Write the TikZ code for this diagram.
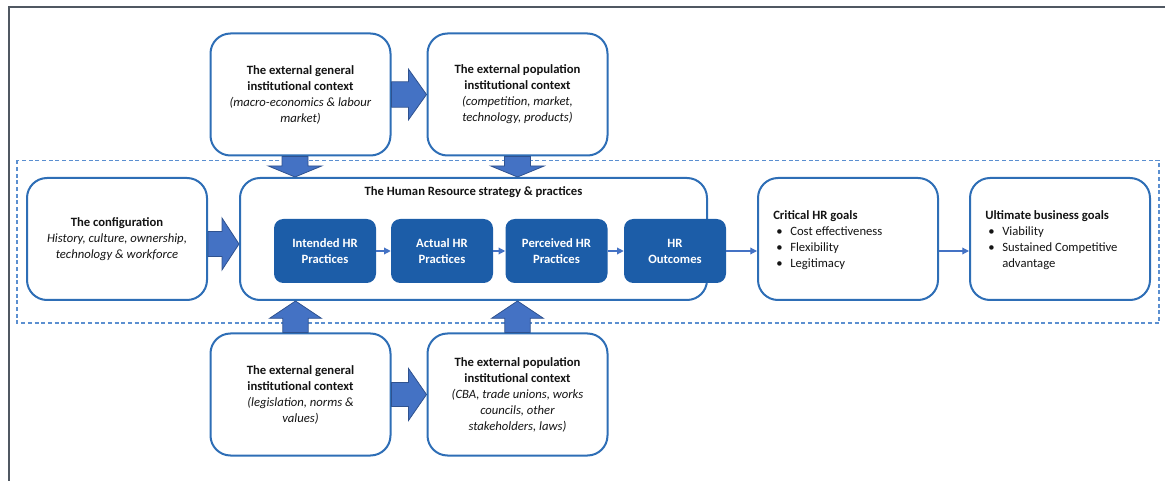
\documentclass[tikz,border=0pt]{standalone}
\usepackage{fontspec}
\setmainfont{Carlito}
\usetikzlibrary{arrows.meta,calc}

\definecolor{boxblue}{RGB}{46,110,182}
\definecolor{darkfill}{RGB}{28,93,168}
\definecolor{arrowfill}{RGB}{68,114,196}
\definecolor{arrowedge}{RGB}{47,82,143}
\definecolor{framegray}{RGB}{80,88,98}
\definecolor{dashblue}{RGB}{91,143,208}
\definecolor{textblack}{RGB}{20,20,20}

\tikzset{
  basefont/.style={font=\fontsize{9.5}{12}\selectfont, text=textblack},
  ctxbox/.style={basefont, draw=boxblue, line width=1.5pt, rounded corners=15pt,
    minimum width=135pt, minimum height=91.5pt, align=center, fill=white, inner sep=0pt},
  hrbox/.style={draw=boxblue, line width=1.5pt, rounded corners=15pt,
    minimum width=350.25pt, minimum height=91.5pt, fill=white, inner sep=0pt},
  practice/.style={font=\fontsize{9.5}{12}\selectfont\bfseries, text=white, fill=darkfill,
    rounded corners=7pt, minimum width=76.5pt, minimum height=48pt, align=center, inner sep=0pt},
  listtext/.style={basefont, align=left, inner sep=0pt, anchor=west},
  blockarrow/.style={fill=arrowfill, draw=arrowedge, line width=0.6pt, line join=miter},
  thinarrow/.style={draw=arrowfill, line width=0.9pt, -{Triangle[length=5pt,width=5pt]}},
  groupframe/.style={draw=dashblue, line width=0.8pt, dash pattern=on 3pt off 2pt},
}

% wide arrow pointing right: start, end, half shaft, half head, head length
\newcommand\rightfat[5]{%
  \path[blockarrow] let \p1=(#1), \p2=(#2), \p3=($(#2)!#5!(#1)$) in
    (\x1,\y2+#3) -- (\x3,\y2+#3) -- (\x3,\y2+#4) -- (\x2,\y2) --
    (\x3,\y2-#4) -- (\x3,\y2-#3) -- (\x1,\y2-#3) -- cycle;}
% wide arrow pointing up or down: start, end, half shaft, half head, head length
\newcommand\vertfat[5]{%
  \path[blockarrow] let \p1=(#1), \p2=(#2), \p3=($(#2)!#5!(#1)$) in
    (\x2-#3,\y1) -- (\x2-#3,\y3) -- (\x2-#4,\y3) -- (\x2,\y2) --
    (\x2+#4,\y3) -- (\x2+#3,\y3) -- (\x2+#3,\y1) -- cycle;}
\newcommand\bul{\hspace{2.25pt}\makebox[10.5pt][l]{\textbullet}}

\begin{document}
\begin{tikzpicture}[x=0.75pt, y=-0.75pt]
\useasboundingbox (0,0) rectangle (1165,481);

% outer page frame
\begin{scope}
  \clip (0,0) rectangle (1165,481);
  \draw[framegray, line width=1.2pt] (9,7) rectangle (1190,500);
\end{scope}

% dashed grouping frame around the middle row
\draw[groupframe] (17,160.5) rectangle (1159,323);

% context boxes
\node[ctxbox] (tgl) at (300.5,94.5)
  {\textbf{The external general}\\\textbf{institutional context}\\\textit{(macro-economics \& labour}\\\textit{market)}};
\node[ctxbox] (tgp) at (517.5,94.5)
  {\textbf{The external population}\\\textbf{institutional context}\\\textit{(competition, market,}\\\textit{technology, products)}};
\node[ctxbox] (cfg) at (117,239)
  {\textbf{The configuration}\\\textit{History, culture, ownership,}\\\textit{technology \& workforce}};
\node[ctxbox] (bgl) at (300.5,394.5)
  {\textbf{The external general}\\\textbf{institutional context}\\\textit{(legislation, norms \&}\\\textit{values)}};
\node[ctxbox] (bgp) at (517.5,394.5)
  {\textbf{The external population}\\\textbf{institutional context}\\\textit{(CBA, trade unions, works}\\\textit{councils, other}\\\textit{stakeholders, laws)}};

% HR strategy container
\node[hrbox] (hr) at (473.5,239) {};
\node[basefont, font=\fontsize{9.5}{12}\selectfont\bfseries, inner sep=0pt] (hrtitle) at (473.5,192)
  {The Human Resource strategy \& practices};

% goal boxes
\node[ctxbox] (crit) at (848,239) {};
\node[ctxbox] (ult) at (1060,239) {};
\node[listtext] (critlist) at ($(crit.west)+(16,1)$)
  {\textbf{Critical HR goals}\\\bul Cost effectiveness\\\bul Flexibility\\\bul Legitimacy};
\node[listtext] (ultlist) at ($(ult.west)+(16,1)$)
  {\textbf{Ultimate business goals}\\\bul Viability\\\bul Sustained Competitive\\\hspace{12.75pt}advantage};

% practice chain
\node[practice] (ip) at (325,251) {Intended HR\\Practices};
\node[practice] (ap) at (442,251) {Actual HR\\Practices};
\node[practice] (pp) at (556.5,251) {Perceived HR\\Practices};
\node[practice] (ho) at (675,251) {HR\\Outcomes};

\draw[thinarrow] (ip) -- (ap);
\draw[thinarrow] (ap) -- (pp);
\draw[thinarrow] (pp) -- (ho);
\draw[thinarrow] (ho.east) -- (ho.east -| crit.west);
\coordinate (cu) at (crit.east |- ho.east);
\draw[thinarrow] (cu) -- (cu -| ult.west);

% wide arrows between the context boxes
\rightfat{tgl.east}{tgp.west}{9.5pt}{19pt}{13.5pt}
\rightfat{bgl.east}{bgp.west}{9pt}{19.5pt}{13.5pt}
\coordinate (cfgs) at ($(cfg.east)+(0,5)$);
\coordinate (cfge) at (cfgs -| hr.west);
\rightfat{cfgs}{cfge}{9.4pt}{19.5pt}{12.75pt}

% wide arrows into the HR container from above and below
\coordinate (d1s) at ($(tgl.south)+(-5.5,0)$);
\coordinate (d1e) at (d1s |- hr.north);
\vertfat{d1s}{d1e}{9.75pt}{20pt}{8.25pt}
\coordinate (d2s) at (tgp.south);
\coordinate (d2e) at (d2s |- hr.north);
\vertfat{d2s}{d2e}{9.75pt}{20pt}{8.25pt}
\coordinate (u1s) at ($(bgl.north)+(-5,0)$);
\coordinate (u1e) at (u1s |- hr.south);
\vertfat{u1s}{u1e}{9.5pt}{19.5pt}{13pt}
\coordinate (u2s) at (bgp.north);
\coordinate (u2e) at (u2s |- hr.south);
\vertfat{u2s}{u2e}{9.5pt}{19.5pt}{13pt}
\end{tikzpicture}
\end{document}
